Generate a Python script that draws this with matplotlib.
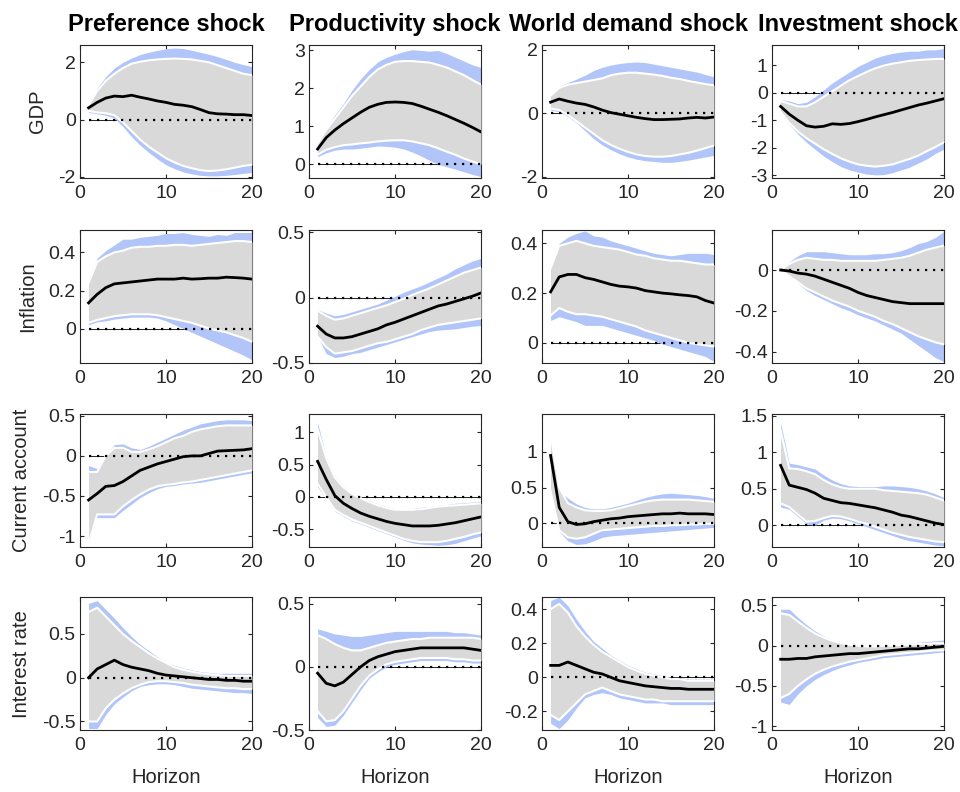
import numpy as np
import matplotlib
matplotlib.use("Agg")
import matplotlib.pyplot as plt
from matplotlib.ticker import FuncFormatter

# ======================= data =======================
horizon = list(range(1, 21))
shocks = ["Preference shock", "Productivity shock", "World demand shock", "Investment shock"]
variables = ["GDP", "Inflation", "Current account", "Interest rate"]

# each list: one row of 20 values per shock (pref, prod, world demand, investment)
gdp_med = [
    [0.41, 0.6, 0.75, 0.82, 0.8, 0.85, 0.78, 0.72, 0.65, 0.6, 0.53, 0.5, 0.45, 0.35, 0.24, 0.2, 0.19, 0.17, 0.17, 0.14],
    [0.4, 0.7, 0.9, 1.07, 1.22, 1.37, 1.5, 1.58, 1.63, 1.64, 1.63, 1.6, 1.53, 1.45, 1.37, 1.28, 1.18, 1.08, 0.97, 0.85],
    [0.35, 0.45, 0.38, 0.32, 0.28, 0.2, 0.1, 0.02, -0.03, -0.08, -0.13, -0.17, -0.2, -0.2, -0.19, -0.18, -0.15, -0.13, -0.15, -0.12],
    [-0.5, -0.78, -1.0, -1.2, -1.25, -1.22, -1.13, -1.15, -1.12, -1.05, -0.97, -0.88, -0.8, -0.72, -0.63, -0.54, -0.45, -0.38, -0.3, -0.22],
]
gdp_gray_hi = [
    [0.5, 1.0, 1.35, 1.6, 1.8, 1.95, 2.02, 2.07, 2.1, 2.12, 2.13, 2.12, 2.1, 2.05, 2.0, 1.9, 1.8, 1.7, 1.6, 1.55],
    [0.55, 0.9, 1.2, 1.5, 1.8, 2.05, 2.3, 2.5, 2.62, 2.7, 2.72, 2.72, 2.7, 2.68, 2.62, 2.55, 2.45, 2.35, 2.22, 2.1],
    [0.55, 0.8, 0.9, 0.95, 1.0, 1.05, 1.1, 1.2, 1.25, 1.28, 1.28, 1.25, 1.22, 1.18, 1.12, 1.08, 1.02, 0.97, 0.92, 0.88],
    [-0.3, -0.4, -0.5, -0.5, -0.35, -0.15, 0.05, 0.25, 0.45, 0.6, 0.75, 0.88, 0.98, 1.05, 1.1, 1.15, 1.18, 1.2, 1.22, 1.22],
]
gdp_gray_lo = [
    [0.3, 0.25, 0.22, 0.15, -0.1, -0.4, -0.7, -0.95, -1.15, -1.35, -1.5, -1.62, -1.7, -1.77, -1.8, -1.78, -1.74, -1.68, -1.62, -1.58],
    [0.25, 0.38, 0.45, 0.5, 0.52, 0.55, 0.57, 0.6, 0.62, 0.63, 0.63, 0.6, 0.55, 0.5, 0.42, 0.33, 0.25, 0.15, 0.07, 0.0],
    [0.15, 0.1, -0.05, -0.25, -0.45, -0.65, -0.85, -1.0, -1.12, -1.22, -1.3, -1.35, -1.37, -1.37, -1.35, -1.3, -1.25, -1.18, -1.1, -1.02],
    [-0.7, -1.1, -1.4, -1.65, -1.85, -2.05, -2.22, -2.38, -2.5, -2.6, -2.65, -2.68, -2.65, -2.6, -2.5, -2.4, -2.28, -2.12, -1.97, -1.8],
]
gdp_blue_hi = [
    [0.55, 1.1, 1.5, 1.8, 2.0, 2.15, 2.27, 2.35, 2.42, 2.47, 2.5, 2.48, 2.42, 2.35, 2.28, 2.2, 2.1, 2.0, 1.92, 1.85],
    [0.6, 0.95, 1.3, 1.6, 1.95, 2.25, 2.5, 2.7, 2.82, 2.9, 2.97, 3.02, 3.0, 2.98, 3.0, 2.92, 2.82, 2.72, 2.62, 2.55],
    [0.6, 0.85, 0.97, 1.08, 1.2, 1.35, 1.45, 1.52, 1.57, 1.6, 1.62, 1.6, 1.55, 1.5, 1.45, 1.4, 1.35, 1.3, 1.22, 1.15],
    [-0.25, -0.3, -0.4, -0.35, -0.15, 0.1, 0.35, 0.55, 0.75, 0.95, 1.1, 1.25, 1.35, 1.42, 1.47, 1.5, 1.5, 1.55, 1.55, 1.6],
]
gdp_blue_lo = [
    [0.25, 0.2, 0.15, 0.05, -0.25, -0.6, -0.9, -1.15, -1.38, -1.58, -1.72, -1.83, -1.9, -1.95, -1.97, -1.97, -1.95, -1.92, -1.88, -1.85],
    [0.2, 0.3, 0.37, 0.4, 0.4, 0.42, 0.45, 0.48, 0.47, 0.45, 0.4, 0.32, 0.22, 0.1, 0.0, -0.07, -0.13, -0.2, -0.27, -0.33],
    [0.1, 0.05, -0.1, -0.3, -0.55, -0.8, -1.0, -1.15, -1.28, -1.38, -1.45, -1.5, -1.52, -1.55, -1.55, -1.52, -1.48, -1.43, -1.38, -1.33],
    [-0.75, -1.15, -1.5, -1.8, -2.05, -2.3, -2.5, -2.68, -2.8, -2.88, -2.95, -2.98, -2.97, -2.9, -2.8, -2.7, -2.55, -2.4, -2.2, -2.05],
]

infl_med = [
    [0.135, 0.18, 0.215, 0.235, 0.24, 0.245, 0.25, 0.255, 0.26, 0.26, 0.26, 0.265, 0.26, 0.262, 0.265, 0.265, 0.27, 0.268, 0.265, 0.26],
    [-0.22, -0.28, -0.31, -0.31, -0.3, -0.28, -0.26, -0.24, -0.21, -0.19, -0.165, -0.14, -0.115, -0.09, -0.065, -0.05, -0.03, -0.01, 0.01, 0.035],
    [0.205, 0.265, 0.275, 0.275, 0.262, 0.255, 0.245, 0.235, 0.228, 0.225, 0.22, 0.21, 0.205, 0.2, 0.197, 0.193, 0.19, 0.185, 0.17, 0.16],
    [0.0, -0.005, -0.015, -0.02, -0.03, -0.045, -0.06, -0.075, -0.09, -0.11, -0.125, -0.135, -0.145, -0.155, -0.16, -0.165, -0.165, -0.165, -0.165, -0.165],
]
infl_gray_hi = [
    [0.24, 0.35, 0.38, 0.4, 0.41, 0.425, 0.43, 0.43, 0.435, 0.435, 0.44, 0.44, 0.435, 0.44, 0.445, 0.45, 0.455, 0.46, 0.46, 0.455],
    [-0.1, -0.14, -0.17, -0.16, -0.14, -0.12, -0.1, -0.08, -0.06, -0.035, -0.01, 0.02, 0.045, 0.07, 0.1, 0.13, 0.16, 0.19, 0.21, 0.23],
    [0.3, 0.39, 0.4, 0.41, 0.4, 0.39, 0.385, 0.38, 0.375, 0.365, 0.355, 0.35, 0.34, 0.335, 0.33, 0.33, 0.325, 0.32, 0.315, 0.315],
    [0.0, 0.03, 0.05, 0.06, 0.055, 0.05, 0.05, 0.045, 0.045, 0.045, 0.045, 0.045, 0.05, 0.055, 0.06, 0.07, 0.085, 0.1, 0.11, 0.12],
]
infl_gray_lo = [
    [0.03, 0.045, 0.055, 0.065, 0.07, 0.075, 0.075, 0.075, 0.07, 0.06, 0.05, 0.04, 0.03, 0.015, 0.0, -0.01, -0.02, -0.035, -0.05, -0.07],
    [-0.3, -0.38, -0.43, -0.42, -0.41, -0.39, -0.37, -0.35, -0.34, -0.32, -0.3, -0.28, -0.25, -0.23, -0.21, -0.2, -0.19, -0.18, -0.17, -0.16],
    [0.11, 0.14, 0.125, 0.115, 0.115, 0.11, 0.105, 0.095, 0.085, 0.075, 0.065, 0.05, 0.04, 0.03, 0.02, 0.01, 0.0, -0.005, -0.01, -0.015],
    [0.0, -0.03, -0.06, -0.09, -0.11, -0.13, -0.15, -0.165, -0.18, -0.2, -0.215, -0.23, -0.25, -0.265, -0.285, -0.305, -0.325, -0.34, -0.355, -0.365],
]
infl_blue_hi = [
    [0.26, 0.37, 0.41, 0.44, 0.47, 0.47, 0.48, 0.485, 0.49, 0.5, 0.5, 0.505, 0.495, 0.49, 0.485, 0.495, 0.49, 0.505, 0.505, 0.505],
    [-0.09, -0.12, -0.14, -0.13, -0.11, -0.09, -0.07, -0.05, -0.02, 0.01, 0.04, 0.065, 0.09, 0.12, 0.15, 0.18, 0.22, 0.25, 0.28, 0.3],
    [0.3, 0.4, 0.425, 0.44, 0.45, 0.43, 0.425, 0.41, 0.4, 0.39, 0.38, 0.37, 0.36, 0.355, 0.35, 0.355, 0.36, 0.36, 0.36, 0.355],
    [0.0, 0.04, 0.07, 0.09, 0.09, 0.09, 0.085, 0.08, 0.075, 0.075, 0.075, 0.08, 0.08, 0.085, 0.095, 0.11, 0.13, 0.14, 0.16, 0.19],
]
infl_blue_lo = [
    [0.02, 0.035, 0.04, 0.05, 0.055, 0.06, 0.06, 0.06, 0.055, 0.04, 0.02, 0.0, -0.02, -0.04, -0.06, -0.08, -0.1, -0.12, -0.14, -0.165],
    [-0.3, -0.43, -0.46, -0.45, -0.43, -0.42, -0.4, -0.38, -0.36, -0.34, -0.32, -0.3, -0.28, -0.26, -0.25, -0.245, -0.24, -0.23, -0.22, -0.215],
    [0.09, 0.105, 0.095, 0.085, 0.07, 0.07, 0.07, 0.06, 0.05, 0.04, 0.03, 0.02, 0.01, -0.005, -0.015, -0.025, -0.035, -0.045, -0.055, -0.075],
    [0.0, -0.03, -0.065, -0.1, -0.125, -0.145, -0.165, -0.185, -0.2, -0.22, -0.235, -0.25, -0.27, -0.29, -0.31, -0.34, -0.37, -0.4, -0.43, -0.45],
]

ca_med = [
    [-0.55, -0.47, -0.38, -0.37, -0.32, -0.25, -0.18, -0.14, -0.1, -0.07, -0.04, -0.01, 0.0, 0.0, 0.03, 0.06, 0.065, 0.07, 0.075, 0.09],
    [0.55, 0.27, 0.02, -0.1, -0.18, -0.25, -0.3, -0.34, -0.38, -0.41, -0.43, -0.45, -0.45, -0.45, -0.44, -0.42, -0.4, -0.37, -0.34, -0.31],
    [0.95, 0.22, 0.02, -0.02, -0.01, 0.02, 0.04, 0.06, 0.07, 0.09, 0.1, 0.11, 0.12, 0.13, 0.13, 0.14, 0.13, 0.13, 0.13, 0.12],
    [0.82, 0.55, 0.52, 0.49, 0.44, 0.37, 0.34, 0.31, 0.3, 0.28, 0.26, 0.24, 0.21, 0.18, 0.14, 0.12, 0.09, 0.06, 0.03, 0.01],
]
ca_gray_hi = [
    [-0.2, -0.2, 0.0, 0.1, 0.1, 0.05, 0.05, 0.08, 0.12, 0.17, 0.22, 0.25, 0.3, 0.33, 0.35, 0.37, 0.38, 0.38, 0.38, 0.38],
    [1.05, 0.6, 0.3, 0.15, 0.05, -0.02, -0.08, -0.13, -0.17, -0.2, -0.2, -0.2, -0.19, -0.17, -0.15, -0.14, -0.13, -0.12, -0.11, -0.1],
    [1.25, 0.5, 0.28, 0.22, 0.18, 0.17, 0.17, 0.18, 0.21, 0.24, 0.27, 0.3, 0.32, 0.33, 0.33, 0.33, 0.33, 0.32, 0.31, 0.3],
    [1.3, 0.78, 0.77, 0.74, 0.7, 0.62, 0.56, 0.52, 0.5, 0.5, 0.5, 0.5, 0.48, 0.47, 0.46, 0.45, 0.44, 0.42, 0.38, 0.34],
]
ca_gray_lo = [
    [-1.1, -0.73, -0.73, -0.73, -0.63, -0.55, -0.48, -0.42, -0.38, -0.36, -0.35, -0.33, -0.32, -0.3, -0.28, -0.26, -0.24, -0.22, -0.2, -0.18],
    [0.2, 0.0, -0.2, -0.28, -0.35, -0.4, -0.45, -0.5, -0.55, -0.6, -0.65, -0.68, -0.7, -0.7, -0.7, -0.68, -0.65, -0.62, -0.58, -0.55],
    [0.45, -0.1, -0.2, -0.22, -0.2, -0.15, -0.1, -0.09, -0.08, -0.07, -0.06, -0.05, -0.04, -0.04, -0.03, -0.03, -0.02, -0.02, -0.01, -0.01],
    [0.3, 0.25, 0.15, 0.05, 0.06, 0.1, 0.13, 0.12, 0.09, 0.05, 0.02, -0.02, -0.06, -0.1, -0.13, -0.16, -0.18, -0.2, -0.22, -0.23],
]
ca_blue_hi = [
    [-0.12, -0.16, 0.02, 0.14, 0.15, 0.1, 0.08, 0.12, 0.17, 0.22, 0.27, 0.32, 0.36, 0.4, 0.42, 0.44, 0.45, 0.45, 0.45, 0.44],
    [1.15, 0.62, 0.32, 0.17, 0.07, 0.0, -0.06, -0.11, -0.15, -0.18, -0.19, -0.18, -0.16, -0.15, -0.13, -0.12, -0.1, -0.09, -0.08, -0.07],
    [1.1, 0.45, 0.35, 0.27, 0.22, 0.2, 0.2, 0.22, 0.25, 0.28, 0.32, 0.36, 0.39, 0.41, 0.42, 0.41, 0.4, 0.39, 0.37, 0.35],
    [1.4, 0.85, 0.83, 0.8, 0.77, 0.69, 0.62, 0.57, 0.54, 0.53, 0.53, 0.53, 0.54, 0.54, 0.53, 0.52, 0.5, 0.47, 0.43, 0.38],
]
ca_blue_lo = [
    [-0.78, -0.77, -0.77, -0.77, -0.68, -0.6, -0.52, -0.46, -0.41, -0.38, -0.37, -0.35, -0.34, -0.33, -0.31, -0.29, -0.27, -0.25, -0.23, -0.21],
    [0.15, -0.02, -0.22, -0.3, -0.37, -0.42, -0.47, -0.52, -0.57, -0.62, -0.67, -0.71, -0.73, -0.74, -0.75, -0.74, -0.72, -0.68, -0.64, -0.6],
    [0.45, -0.12, -0.25, -0.3, -0.29, -0.25, -0.2, -0.18, -0.17, -0.16, -0.15, -0.14, -0.13, -0.12, -0.11, -0.1, -0.09, -0.08, -0.07, -0.06],
    [0.25, 0.22, 0.12, 0.02, 0.0, 0.07, 0.1, 0.09, 0.06, 0.02, -0.02, -0.06, -0.1, -0.14, -0.18, -0.21, -0.23, -0.25, -0.27, -0.28],
]

rate_med = [
    [0.0, 0.1, 0.15, 0.2, 0.15, 0.12, 0.1, 0.08, 0.05, 0.03, 0.02, 0.01, 0.0, -0.01, -0.02, -0.02, -0.03, -0.03, -0.04, -0.04],
    [-0.05, -0.13, -0.15, -0.12, -0.06, 0.0, 0.05, 0.08, 0.1, 0.12, 0.13, 0.14, 0.15, 0.15, 0.15, 0.15, 0.15, 0.15, 0.14, 0.13],
    [0.07, 0.07, 0.09, 0.07, 0.05, 0.03, 0.02, 0.0, -0.02, -0.03, -0.04, -0.05, -0.055, -0.06, -0.065, -0.065, -0.07, -0.07, -0.07, -0.07],
    [-0.17, -0.17, -0.16, -0.16, -0.14, -0.13, -0.12, -0.11, -0.1, -0.1, -0.09, -0.08, -0.07, -0.06, -0.05, -0.04, -0.04, -0.03, -0.02, -0.01],
]
rate_gray_hi = [
    [0.75, 0.8, 0.7, 0.6, 0.5, 0.42, 0.35, 0.28, 0.22, 0.17, 0.12, 0.09, 0.07, 0.05, 0.04, 0.03, 0.02, 0.02, 0.02, 0.02],
    [0.25, 0.22, 0.18, 0.15, 0.13, 0.13, 0.15, 0.17, 0.19, 0.2, 0.21, 0.22, 0.22, 0.23, 0.23, 0.23, 0.23, 0.23, 0.23, 0.22],
    [0.4, 0.43, 0.38, 0.3, 0.24, 0.19, 0.15, 0.12, 0.09, 0.06, 0.04, 0.02, 0.01, 0.0, -0.01, -0.01, -0.02, -0.02, -0.02, -0.02],
    [0.4, 0.38, 0.3, 0.22, 0.15, 0.1, 0.06, 0.03, 0.01, 0.0, -0.01, -0.01, 0.0, 0.0, 0.01, 0.01, 0.02, 0.02, 0.03, 0.03],
]
rate_gray_lo = [
    [-0.5, -0.5, -0.35, -0.25, -0.18, -0.12, -0.08, -0.05, -0.04, -0.04, -0.05, -0.06, -0.08, -0.09, -0.1, -0.11, -0.12, -0.12, -0.13, -0.13],
    [-0.35, -0.43, -0.42, -0.35, -0.25, -0.15, -0.07, -0.02, 0.02, 0.04, 0.05, 0.06, 0.07, 0.07, 0.07, 0.07, 0.06, 0.06, 0.05, 0.05],
    [-0.22, -0.25, -0.2, -0.15, -0.1, -0.08, -0.06, -0.08, -0.1, -0.11, -0.12, -0.13, -0.13, -0.14, -0.14, -0.14, -0.14, -0.14, -0.14, -0.14],
    [-0.65, -0.6, -0.5, -0.42, -0.35, -0.3, -0.26, -0.23, -0.2, -0.18, -0.16, -0.14, -0.12, -0.11, -0.1, -0.09, -0.08, -0.07, -0.06, -0.06],
]
rate_blue_hi = [
    [0.85, 0.88, 0.78, 0.68, 0.57, 0.47, 0.38, 0.31, 0.24, 0.18, 0.14, 0.11, 0.09, 0.07, 0.06, 0.05, 0.05, 0.05, 0.05, 0.05],
    [0.3, 0.28, 0.26, 0.25, 0.24, 0.24, 0.25, 0.26, 0.27, 0.28, 0.28, 0.28, 0.28, 0.28, 0.28, 0.28, 0.27, 0.27, 0.26, 0.25],
    [0.45, 0.47, 0.42, 0.34, 0.27, 0.21, 0.17, 0.13, 0.1, 0.07, 0.05, 0.03, 0.02, 0.01, 0.0, 0.0, -0.01, -0.01, -0.01, -0.01],
    [0.45, 0.45, 0.35, 0.26, 0.18, 0.12, 0.07, 0.04, 0.02, 0.01, 0.0, 0.0, 0.01, 0.01, 0.02, 0.03, 0.04, 0.05, 0.06, 0.07],
]
rate_blue_lo = [
    [-0.58, -0.58, -0.42, -0.3, -0.22, -0.15, -0.1, -0.08, -0.07, -0.07, -0.08, -0.1, -0.12, -0.13, -0.14, -0.15, -0.16, -0.17, -0.17, -0.18],
    [-0.4, -0.47, -0.46, -0.38, -0.28, -0.18, -0.09, -0.04, 0.0, 0.02, 0.03, 0.04, 0.05, 0.05, 0.05, 0.05, 0.04, 0.04, 0.03, 0.03],
    [-0.27, -0.3, -0.25, -0.18, -0.12, -0.1, -0.09, -0.1, -0.12, -0.13, -0.14, -0.15, -0.15, -0.15, -0.16, -0.16, -0.16, -0.16, -0.16, -0.16],
    [-0.7, -0.73, -0.6, -0.5, -0.42, -0.36, -0.31, -0.27, -0.24, -0.21, -0.19, -0.17, -0.15, -0.14, -0.13, -0.12, -0.11, -0.1, -0.09, -0.08],
]

# y limits and ticks per panel (row = variable, col = shock)
ylims = [
    [(-2.05, 2.6), (-0.37, 3.14), (-2.05, 2.15), (-3.1, 1.72)],
    [(-0.18, 0.52), (-0.5, 0.52), (-0.08, 0.455), (-0.455, 0.198)],
    [(-1.14, 0.52), (-0.78, 1.28), (-0.34, 1.53), (-0.3, 1.52)],
    [(-0.6, 0.92), (-0.5, 0.55), (-0.31, 0.47), (-1.05, 0.6)],
]
yticks = [
    [[-2, 0, 2], [0, 1, 2, 3], [-2, 0, 2], [-3, -2, -1, 0, 1]],
    [[0, 0.2, 0.4], [-0.5, 0, 0.5], [0, 0.2, 0.4], [-0.4, -0.2, 0]],
    [[-1, -0.5, 0, 0.5], [-0.5, 0, 0.5, 1], [0, 0.5, 1], [0, 0.5, 1, 1.5]],
    [[-0.5, 0, 0.5], [-0.5, 0, 0.5], [-0.2, 0, 0.2, 0.4], [-1, -0.5, 0, 0.5]],
]

meds = [gdp_med, infl_med, ca_med, rate_med]
gray_his = [gdp_gray_hi, infl_gray_hi, ca_gray_hi, rate_gray_hi]
gray_los = [gdp_gray_lo, infl_gray_lo, ca_gray_lo, rate_gray_lo]
blue_his = [gdp_blue_hi, infl_blue_hi, ca_blue_hi, rate_blue_hi]
blue_los = [gdp_blue_lo, infl_blue_lo, ca_blue_lo, rate_blue_lo]

# ======================= style =======================
plt.rcParams['font.family'] = ['Liberation Sans', 'DejaVu Sans']
plt.rcParams['axes.unicode_minus'] = False

GRAY = '#d9d9d9'
BLUE = '#b1c5f9'
AXC = '#262626'

lefts = [0.0833, 0.3219, 0.5646, 0.8042]
bottoms = [0.775, 0.542, 0.309, 0.078]
W, H = 0.1792, 0.168

fig = plt.figure(figsize=(9.6, 7.92), dpi=100)
fmt = FuncFormatter(lambda v, p: '%g' % v)

for r in range(4):
    for c in range(4):
        ax = fig.add_axes([lefts[c], bottoms[r], W, H])
        h = np.array(horizon)
        ax.plot([1, 20], [0, 0], color='k', lw=0.6, zorder=1)
        ax.fill_between(h, blue_los[r][c], blue_his[r][c], color=BLUE, lw=0, zorder=2)
        ax.fill_between(h, gray_los[r][c], gray_his[r][c], color=GRAY, lw=0, zorder=3)
        ax.plot(h, gray_los[r][c], color='white', lw=1.5, zorder=4)
        ax.plot(h, gray_his[r][c], color='white', lw=1.5, zorder=4)
        ax.plot(h, meds[r][c], color='k', lw=2, zorder=5)
        ax.plot([1, 20], [0, 0], color='k', lw=1.6, linestyle=(0, (1.0, 2.6)),
                dash_capstyle='butt', zorder=6)

        ax.set_xlim(0, 20)
        ax.set_ylim(*ylims[r][c])
        ax.set_xticks([0, 10, 20])
        ax.set_yticks(yticks[r][c])
        ax.yaxis.set_major_formatter(fmt)
        ax.tick_params(direction='in', top=True, right=True, length=3, width=0.8,
                       labelsize=14, colors=AXC)
        ax.tick_params(axis='x', pad=5)
        ax.tick_params(axis='y', pad=3)
        for s in ax.spines.values():
            s.set_color(AXC)
            s.set_linewidth(0.8)
        if r == 0:
            ax.set_title(shocks[c], fontsize=17, fontweight='bold', pad=10)
        if c == 0:
            ax.set_ylabel(variables[r], fontsize=14.5, color=AXC, labelpad=8)
        if r == 3:
            ax.set_xlabel('Horizon', fontsize=14.5, color=AXC, labelpad=10)

fig.savefig('out.png', dpi=100)
